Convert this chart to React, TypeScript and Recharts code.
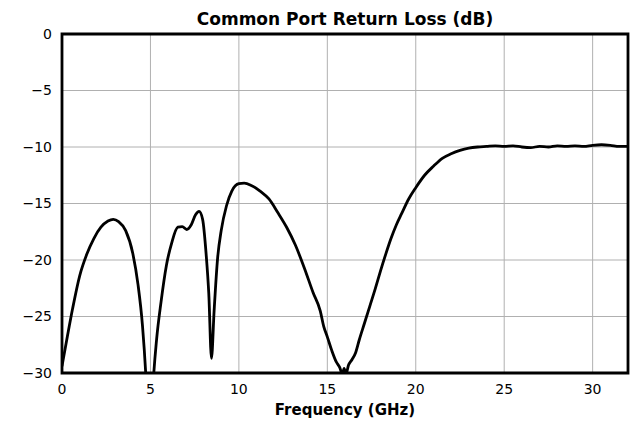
import React from "react";
import { LineChart, Line, XAxis, YAxis, CartesianGrid, ReferenceArea } from "recharts";

const freqGHz = [
  0, 0.3, 0.6, 1.0, 1.4, 1.8, 2.2, 2.6, 2.9, 3.2, 3.6, 4.0, 4.3, 4.55, 4.75, 4.95, 5.15, 5.35, 5.6, 5.9, 6.2,
  6.55, 6.8, 7.05, 7.3, 7.55, 7.75, 7.95, 8.15, 8.3, 8.45, 8.6, 8.8, 9.0, 9.3, 9.6, 10.0, 10.3, 10.7, 11.2, 11.7,
  12.2, 12.7, 13.2, 13.7, 14.2, 14.6, 14.8, 15.0, 15.25, 15.5, 15.7, 15.85, 15.95, 16.05, 16.2, 16.4, 16.6, 16.8, 17.1, 17.4,
  17.7, 18.0, 18.3, 18.6, 18.9, 19.2, 19.6, 20.0, 20.5, 21.0, 21.5, 22.0, 22.5, 23.0, 23.5, 24.0, 24.5, 25.0, 25.5, 26.0,
  26.5, 27.0, 27.5, 28.0, 28.5, 29.0, 29.5, 30.0, 30.5, 31.0, 31.5, 32.0,
];

const returnLossDb = [
  -29.4, -26.8, -24.3, -21.4, -19.5, -18.1, -17.1, -16.55, -16.4, -16.6, -17.4, -19.4, -22.2, -25.8, -30.5, -38, -31, -27.0, -23.7, -20.5, -18.5,
  -17.1, -17.05, -17.3, -16.9, -16.0, -15.7, -16.4, -19.5, -23.0, -28.7, -24.5, -19.8, -17.4, -15.2, -13.9, -13.25, -13.2, -13.4, -13.9, -14.6,
  -15.8, -17.1, -18.7, -20.7, -22.9, -24.5, -25.9, -26.8, -28.0, -29.0, -29.5, -30.1, -29.6, -30.1, -29.3, -28.8, -28.2, -27.1, -25.6, -24.1,
  -22.6, -21.0, -19.5, -18.1, -16.9, -15.9, -14.6, -13.6, -12.5, -11.7, -11.0, -10.6, -10.3, -10.1, -10.0, -9.95, -9.9, -9.95, -9.9, -10.0,
  -10.05, -9.95, -10.0, -9.9, -9.95, -9.9, -9.95, -9.85, -9.8, -9.85, -9.95, -9.95,
];

const xTicks = [0, 5, 10, 15, 20, 25, 30];
const yTicks = [0, -5, -10, -15, -20, -25, -30];

const data = freqGHz.map((f, i) => ({ f, rl: returnLossDb[i] }));

const FONT = "'DejaVu Sans', sans-serif";
const fmt = (v: number) => (v < 0 ? "\u2212" + Math.abs(v) : String(v));

export default function App() {
  return (
    <div style={{ position: "fixed", left: 0, top: 0, width: 633, height: 422, background: "#fff" }}>
      <LineChart width={633} height={422} data={data} margin={{ top: 34, right: 5, bottom: 0, left: 0 }}>
        <CartesianGrid stroke="#b0b0b0" strokeWidth={1} />
        <XAxis
          dataKey="f"
          type="number"
          domain={[0, 32]}
          ticks={xTicks}
          allowDataOverflow
          tickLine={false}
          axisLine={false}
          tickSize={0}
          tickMargin={11}
          tick={{ fill: "#000", fontSize: 14, fontFamily: FONT }}
          height={49}
        />
        <YAxis
          type="number"
          domain={[-30, 0]}
          ticks={yTicks}
          allowDataOverflow
          tickLine={false}
          axisLine={false}
          tickSize={0}
          tickMargin={10}
          tickFormatter={fmt}
          tick={{ fill: "#000", fontSize: 14, fontFamily: FONT }}
          width={62}
        />
        <Line
          dataKey="rl"
          type="monotone"
          stroke="#000"
          strokeWidth={2.8}
          dot={false}
          isAnimationActive={false}
        />
        <ReferenceArea x1={0} x2={32} y1={-30} y2={0} fill="none" fillOpacity={0} stroke="#000" strokeWidth={2.8} ifOverflow="visible" />
      </LineChart>
      <div
        style={{
          position: "absolute",
          left: 62,
          width: 566,
          top: 10.6,
          textAlign: "center",
          fontFamily: FONT,
          fontWeight: "bold",
          fontSize: 17,
          lineHeight: "17px",
          color: "#000",
          whiteSpace: "nowrap",
        }}
      >
        Common Port Return Loss (dB)
      </div>
      <div
        style={{
          position: "absolute",
          left: 62,
          width: 566,
          top: 403,
          textAlign: "center",
          fontFamily: FONT,
          fontWeight: "bold",
          fontSize: 15,
          lineHeight: "15px",
          color: "#000",
          whiteSpace: "nowrap",
        }}
      >
        Frequency (GHz)
      </div>
    </div>
  );
}
